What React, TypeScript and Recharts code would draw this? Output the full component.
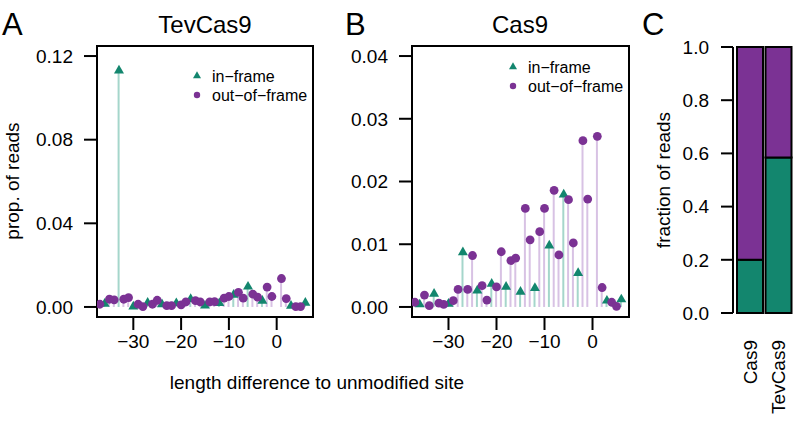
import React from 'react'
import {Bar, BarChart, Cell, ComposedChart, ReferenceArea, Scatter, XAxis, YAxis} from 'recharts'

const W = 793
const H = 422
const font = '"Liberation Sans", Arial, Helvetica, sans-serif'

const green = '#13866e'
const purple = '#7b3294'
const stemGreen = '#a5d6cb'
const stemPurple = '#d8c2e4'

// length difference (0 = unmodified, not shown)
const lengthDiff = [
  -37, -36, -35, -34, -33, -32, -31, -30, -29, -28, -27, -26, -25, -24, -23, -22, -21, -20, -19, -18, -17, -16,
  -15, -14, -13, -12, -11, -10, -9, -8, -7, -6, -5, -4, -3, -2, -1, 1, 2, 3, 4, 5, 6,
]
const tevCas9Reads = [
  0.0013, 0.0015, 0.0037, 0.0034, 0.113, 0.0037, 0.0045, 0.0002, 0.0013, 0.0002, 0.002, 0.0013, 0.0032, 0.0013,
  0.0006, 0.0006, 0.0018, 0.001, 0.0024, 0.0038, 0.003, 0.0024, 0.0006, 0.0024, 0.0026, 0.0018, 0.0042, 0.005,
  0.0058, 0.007, 0.0042, 0.0097, 0.0061, 0.0047, 0.0029, 0.0095, 0.005, 0.0136, 0.004, 0.0005, 0.0002, 0.0002, 0.002,
]
const cas9Reads = [
  0.00075, 0.0004, 0.0019, 0.0002, 0.0021, 0.0006, 0.0004, 0.0005, 0.001, 0.0028, 0.0087, 0.0028, 0.0082, 0.0026,
  0.0034, 0.0011, 0.0037, 0.0032, 0.0088, 0.0032, 0.0074, 0.0078, 0.0024, 0.0157, 0.0107, 0.003, 0.012, 0.0157,
  0.0098, 0.0186, 0.0083, 0.0179, 0.0171, 0.0102, 0.0054, 0.0265, 0.0172, 0.0272, 0.0031, 0.001, 0.00075, 0.0001,
  0.0012,
]
const lengthTicks = [-30, -20, -10, 0]
const tevTicks = [0, 0.04, 0.08, 0.12]
const cas9Ticks = [0, 0.01, 0.02, 0.03, 0.04]

const fractionGroups = ['Cas9', 'TevCas9']
const inFrameFraction = [0.2, 0.585]
const outOfFrameFraction = [0.8, 0.415]
const fractionTicks = [0, 0.2, 0.4, 0.6, 0.8, 1]

const xDomain: [number, number] = [-37.6, 7.6]

const minus = (v: number) => (v < 0 ? '\u2212' + Math.abs(v) : String(v))

const Triangle = (p: any) => (
  <path d={`M${p.cx},${p.cy - 5.8}L${p.cx + 5},${p.cy + 2.9}L${p.cx - 5},${p.cy + 2.9}Z`} fill={green} />
)
const Dot = (p: any) => <circle cx={p.cx} cy={p.cy} r={4.4} fill={purple} />

const tickStyle = {fontSize: 19, fill: '#000', fontFamily: font}
const tickLine = {stroke: '#000', strokeWidth: 2}

function StemPanel({values, ticks, yMax, left, right}: {values: number[]; ticks: number[]; yMax: number; left: number; right: number}) {
  const rows = lengthDiff.map((d, i) => ({d, v: values[i], inFrame: d % 3 === 0}))
  const pad = yMax * 0.04
  return (
    <div style={{position: 'absolute', left: 0, top: 0}}>
      <ComposedChart width={W} height={H} data={rows} margin={{top: 46, left: left - 60, right: W - right, bottom: H - 317 - 40}}>
        <XAxis
          dataKey="d"
          type="number"
          domain={xDomain}
          allowDataOverflow
          ticks={lengthTicks}
          tickFormatter={minus}
          height={40}
          tickSize={13}
          tickMargin={5}
          axisLine={false}
          tickLine={tickLine}
          tick={tickStyle}
          interval={0}
        />
        <YAxis
          type="number"
          domain={[-pad, yMax + pad]}
          allowDataOverflow
          ticks={ticks}
          tickFormatter={(v: number) => v.toFixed(2)}
          width={60}
          tickSize={13}
          tickMargin={11}
          axisLine={false}
          tickLine={tickLine}
          tick={tickStyle}
          interval={0}
        />
        <Bar dataKey="v" barSize={2} isAnimationActive={false}>
          {rows.map((r) => (
            <Cell key={r.d} fill={r.inFrame ? stemGreen : stemPurple} />
          ))}
        </Bar>
        <Scatter data={rows.filter((r) => r.inFrame)} dataKey="v" shape={Triangle} isAnimationActive={false} />
        <Scatter data={rows.filter((r) => !r.inFrame)} dataKey="v" shape={Dot} isAnimationActive={false} />
        <ReferenceArea x1={xDomain[0]} x2={xDomain[1]} y1={-pad} y2={yMax + pad} fill="none" stroke="#000" strokeWidth={2} />
      </ComposedChart>
    </div>
  )
}

const GroupTick = (p: any) => (
  <text
    x={p.x}
    y={340}
    transform={`rotate(-90, ${p.x}, 340)`}
    textAnchor="end"
    dominantBaseline="central"
    fontSize={19}
    fontFamily={font}
    fill="#000"
  >
    {p.payload.value}
  </text>
)

function FractionPanel() {
  const rows = fractionGroups.map((g, i) => ({g, inF: inFrameFraction[i], outF: outOfFrameFraction[i]}))
  return (
    <div style={{position: 'absolute', left: 0, top: 0}}>
      <BarChart width={W} height={H} data={rows} margin={{top: 47, left: 673, right: 0, bottom: H - 313 - 30}} barCategoryGap={0}>
        <XAxis dataKey="g" height={30} axisLine={false} tickLine={false} tick={GroupTick} interval={0} padding={{left: 3, right: 0}} />
        <YAxis
          type="number"
          domain={[0, 1]}
          ticks={fractionTicks}
          tickFormatter={(v: number) => v.toFixed(1)}
          width={60}
          tickSize={12}
          tickMargin={12}
          axisLine={{stroke: '#000', strokeWidth: 2}}
          tickLine={tickLine}
          tick={tickStyle}
          interval={0}
        />
        <Bar dataKey="inF" stackId="f" fill={green} stroke="#000" strokeWidth={2} barSize={26} isAnimationActive={false} />
        <Bar dataKey="outF" stackId="f" fill={purple} stroke="#000" strokeWidth={2} barSize={26} isAnimationActive={false} />
      </BarChart>
    </div>
  )
}

function LegendBox({x, y}: {x: number; y: number}) {
  return (
    <g fontFamily={font} fontSize={16} fill="#000">
      <path d={`M${x},${y - 4.7}L${x + 4},${y + 2.3}L${x - 4},${y + 2.3}Z`} fill={green} />
      <text x={x + 15} y={y} dominantBaseline="central">
        in{'\u2212'}frame
      </text>
      <circle cx={x} cy={y + 19} r={3.2} fill={purple} />
      <text x={x + 15} y={y + 19} dominantBaseline="central">
        out{'\u2212'}of{'\u2212'}frame
      </text>
    </g>
  )
}

export default function App() {
  return (
    <div style={{position: 'absolute', left: 0, top: 0, width: W, height: H, background: '#fff'}}>
      <StemPanel values={tevCas9Reads} ticks={tevTicks} yMax={0.12} left={97} right={313} />
      <StemPanel values={cas9Reads} ticks={cas9Ticks} yMax={0.04} left={412} right={629} />
      <FractionPanel />
      <svg width={W} height={H} style={{position: 'absolute', left: 0, top: 0, pointerEvents: 'none'}}>
        <g fontFamily={font} fill="#000">
          <text x={2} y={35} fontSize={31}>A</text>
          <text x={345} y={35} fontSize={31}>B</text>
          <text x={642} y={35} fontSize={31}>C</text>
          <text x={205} y={33} fontSize={24} textAnchor="middle">TevCas9</text>
          <text x={520} y={33} fontSize={24} textAnchor="middle">Cas9</text>
          <text x={12} y={181} fontSize={19} textAnchor="middle" dominantBaseline="central" transform="rotate(-90, 12, 181)">
            prop. of reads
          </text>
          <text x={663} y={180} fontSize={19} textAnchor="middle" dominantBaseline="central" transform="rotate(-90, 663, 180)">
            fraction of reads
          </text>
          <text x={317} y={389} fontSize={19} textAnchor="middle">
            length difference to unmodified site
          </text>
        </g>
        <LegendBox x={197} y={76} />
        <LegendBox x={513} y={67} />
      </svg>
    </div>
  )
}
